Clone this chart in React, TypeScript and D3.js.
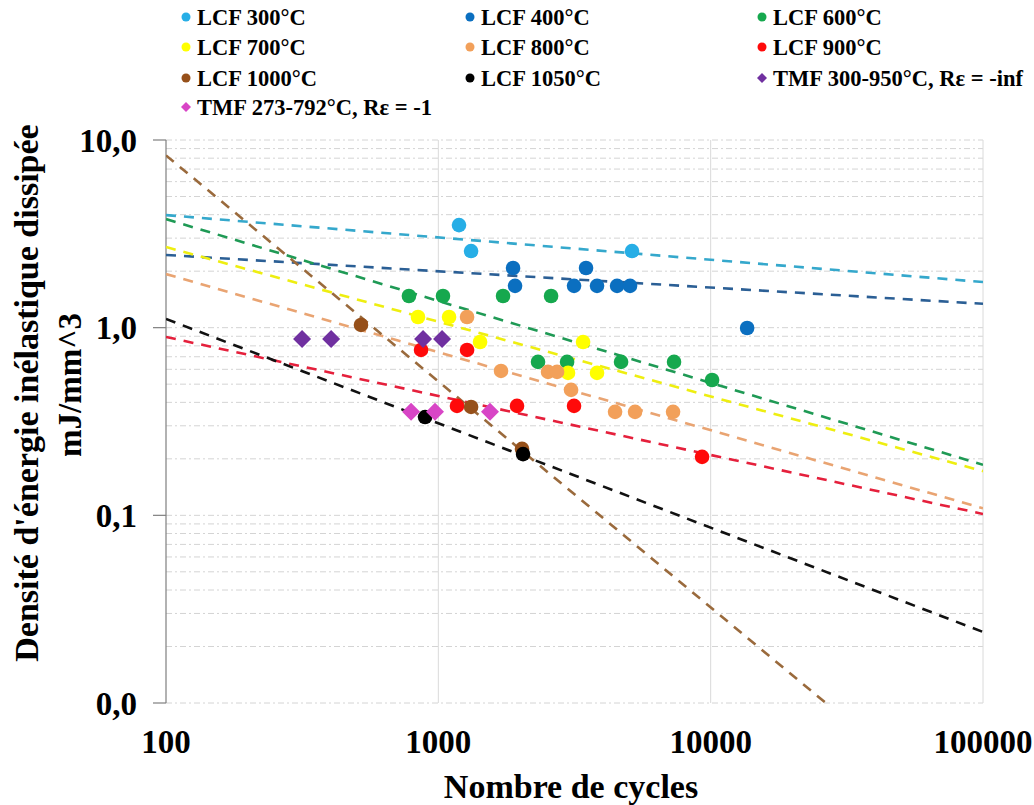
import React from 'react';
import * as d3 from 'd3';

// ---- Data ----
const xTicks = [100, 1000, 10000, 100000];
const yTicks = [0.01, 0.1, 1, 10];

const lcf300 = [[1191, 3.52], [1319, 2.56], [5143, 2.56]];
const lcf400 = [[1881, 2.08], [3486, 2.08], [1913, 1.67], [3150, 1.67], [3826, 1.67], [4533, 1.67], [5058, 1.67], [13610, 0.996]];
const lcf600 = [[780, 1.475], [1040, 1.475], [1728, 1.475], [2594, 1.475], [2323, 0.657], [2970, 0.657], [4688, 0.657], [7337, 0.657], [10120, 0.526]];
const lcf700 = [[842, 1.14], [1095, 1.14], [1423, 0.839], [3400, 0.839], [2994, 0.574], [3826, 0.574]];
const lcf800 = [[1275, 1.14], [1699, 0.588], [2528, 0.581], [2729, 0.581], [3072, 0.466], [4456, 0.356], [5277, 0.356], [7277, 0.356]];
const lcf900 = [[864, 0.761], [1275, 0.761], [1171, 0.383], [1945, 0.383], [3150, 0.383], [9299, 0.205]];
const lcf1000 = [[520, 1.034], [1319, 0.378], [2029, 0.226]];
const lcf1050 = [[894, 0.334], [2047, 0.212]];
const tmf300950 = [[316, 0.871], [404, 0.871], [879, 0.871], [1032, 0.871]];
const tmf273792 = [[794, 0.356], [972, 0.356], [1548, 0.356]];

const seriesNames = [
  'LCF 300°C', 'LCF 400°C', 'LCF 600°C',
  'LCF 700°C', 'LCF 800°C', 'LCF 900°C',
  'LCF 1000°C', 'LCF 1050°C', 'TMF 300-950°C, Rε = -inf',
  'TMF 273-792°C, Rε = -1',
];
const seriesData = [lcf300, lcf400, lcf600, lcf700, lcf800, lcf900, lcf1000, lcf1050, tmf300950, tmf273792];
const seriesShapes = ['circle', 'circle', 'circle', 'circle', 'circle', 'circle', 'circle', 'circle', 'diamond', 'diamond'];
const markerColors = ['#27aee6', '#0b6fc0', '#16a84e', '#ffff00', '#f2a05a', '#ff0a0a', '#96501a', '#000000', '#7030a0', '#d845c6'];

// power-law trendlines: value at N=100 and at N=100000
const trendAt100 = [3.98, 2.44, 3.79, 2.69, 1.93, 0.892, 8.28, 1.113];
const trendAt100000 = [1.75, 1.34, 0.186, 0.172, 0.109, 0.1017, 0.00202, 0.0239];
const trendColors = ['#35a8cc', '#2b5f95', '#1f9a55', '#eeee10', '#e9a472', '#e5203c', '#9a6a3c', '#111111'];

// ---- Layout ----
const W = 1034, H = 805;
const L = 166, R = 983, T = 140, B = 703;
const FONT = '"Liberation Serif", "Times New Roman", serif';

const locale = d3.formatLocale({ decimal: ',', thousands: ' ', grouping: [3], currency: ['', '€'] });
const yFmt = locale.format('.1f');
const xFmt = d3.format('d');

function Marker({ shape, cx, cy, r, color }: { shape: string; cx: number; cy: number; r: number; color: string }) {
  if (shape === 'diamond') {
    const p = `M${cx},${cy - r} L${cx + r},${cy} L${cx},${cy + r} L${cx - r},${cy} Z`;
    return <path d={p} fill={color} />;
  }
  return <circle cx={cx} cy={cy} r={r} fill={color} />;
}

export default function App() {
  const x = d3.scaleLog().domain([100, 100000]).range([L, R]);
  const y = d3.scaleLog().domain([0.01, 10]).range([B, T]);
  const gridY = y.ticks();
  const line = d3.line<[number, number]>().x(d => x(d[0])).y(d => y(d[1]));

  const legendCols = [186, 470, 762];
  const legendRows = [17, 47, 78, 107];

  return (
    <svg width={W} height={H} style={{ position: 'absolute', left: 0, top: 0, background: '#fff' }}
      fontFamily={FONT} fontWeight="bold">
      <defs>
        <clipPath id="plot"><rect x={L} y={T} width={R - L} height={B - T} /></clipPath>
      </defs>
      <rect x={0} y={0} width={W} height={H} fill="#fff" />

      {/* horizontal minor/major gridlines */}
      {gridY.map((v, i) => (
        <line key={'gy' + i} x1={L} x2={R} y1={y(v)} y2={y(v)} stroke="#d4d4d4" strokeWidth={1} strokeDasharray="6,3,2,3" />
      ))}
      {/* vertical major gridlines */}
      {xTicks.slice(1).map((v, i) => (
        <line key={'gx' + i} x1={x(v)} x2={x(v)} y1={T} y2={B} stroke="#dadada" strokeWidth={1} />
      ))}

      {/* y axis */}
      <line x1={L} x2={L} y1={T} y2={B} stroke="#7f7f7f" strokeWidth={1.2} />
      {yTicks.map((v, i) => (
        <g key={'yt' + i}>
          <line x1={L - 13} x2={L} y1={y(v)} y2={y(v)} stroke="#7f7f7f" strokeWidth={1.2} />
          <text x={137} y={y(v)} dy="0.35em" textAnchor="end" fontSize={33} fill="#000">{yFmt(v)}</text>
        </g>
      ))}
      {xTicks.map((v, i) => (
        <text key={'xt' + i} x={x(v)} y={753} textAnchor="middle" fontSize={33} fill="#000">{xFmt(v)}</text>
      ))}

      {/* trendlines */}
      <g clipPath="url(#plot)">
        {trendAt100.map((a, i) => (
          <path key={'tr' + i} d={line([[100, a], [100000, trendAt100000[i]]]) || ''}
            stroke={trendColors[i]} strokeWidth={2.6} strokeDasharray="10,8" fill="none" />
        ))}
      </g>

      {/* points */}
      {seriesData.map((pts, si) => (
        <g key={'s' + si}>
          {pts.map((p, pi) => (
            <Marker key={pi} shape={seriesShapes[si]} cx={x(p[0])} cy={y(p[1])}
              r={seriesShapes[si] === 'diamond' ? 9 : 7.3} color={markerColors[si]} />
          ))}
        </g>
      ))}

      {/* legend */}
      {seriesNames.map((name, i) => {
        const cx = legendCols[i % 3];
        const cy = legendRows[Math.floor(i / 3)];
        return (
          <g key={'lg' + i}>
            <Marker shape={seriesShapes[i]} cx={cx} cy={cy} r={seriesShapes[i] === 'diamond' ? 5 : 4.5} color={markerColors[i]} />
            <text x={cx + 11} y={cy} dy="0.35em" fontSize={22.5} fill="#000">{name}</text>
          </g>
        );
      })}

      {/* axis titles */}
      <text x={571} y={798} textAnchor="middle" fontSize={34} fill="#000">Nombre de cycles</text>
      <g transform="translate(38,393) rotate(-90)">
        <text x={0} y={0} textAnchor="middle" fontSize={34} fill="#000">Densité d'énergie inélastique dissipée</text>
      </g>
      <g transform="translate(81,385) rotate(-90)">
        <text x={0} y={0} textAnchor="middle" fontSize={33} fill="#000">mJ/mm^3</text>
      </g>
    </svg>
  );
}
